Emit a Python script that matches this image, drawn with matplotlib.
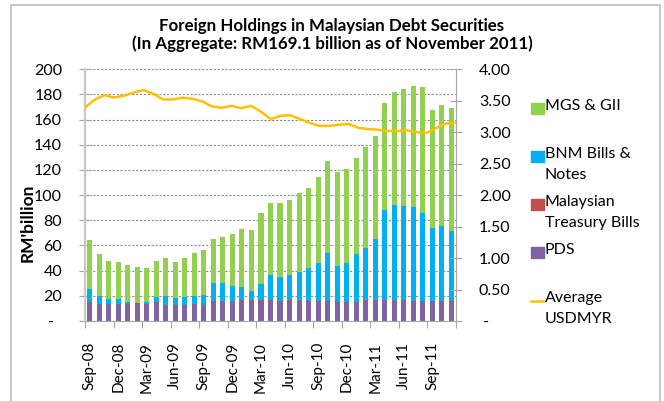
import numpy as np
import matplotlib
matplotlib.use("Agg")
import matplotlib.pyplot as plt
from matplotlib.patches import Rectangle
from matplotlib.lines import Line2D

plt.rcParams['font.family'] = ['Lato', 'DejaVu Sans']

months = ['Sep-08', 'Oct-08', 'Nov-08', 'Dec-08',
          'Jan-09', 'Feb-09', 'Mar-09', 'Apr-09', 'May-09', 'Jun-09',
          'Jul-09', 'Aug-09', 'Sep-09', 'Oct-09', 'Nov-09', 'Dec-09',
          'Jan-10', 'Feb-10', 'Mar-10', 'Apr-10', 'May-10', 'Jun-10',
          'Jul-10', 'Aug-10', 'Sep-10', 'Oct-10', 'Nov-10', 'Dec-10',
          'Jan-11', 'Feb-11', 'Mar-11', 'Apr-11', 'May-11', 'Jun-11',
          'Jul-11', 'Aug-11', 'Sep-11', 'Oct-11', 'Nov-11']

# RM billion
pds = [14.6, 13.5, 13.5, 13.2, 13.0, 13.2, 13.0, 14.3, 12.7, 12.7,
       12.7, 12.7, 12.7, 15.4, 15.6, 15.6, 15.9, 16.2, 16.2, 15.4,
       15.1, 15.4, 14.6, 14.8, 14.8, 14.8, 14.6, 14.6, 14.6, 15.6,
       15.6, 15.6, 15.6, 15.6, 15.6, 15.6, 15.6, 14.8, 14.8]
mtb = [0.8, 0.0, 0.0, 0.6, 0.8, 0.8, 0.8, 0.8, 0.0, 0.0,
       0.3, 0.5, 0.0, 0.8, 0.6, 0.6, 1.1, 0.8, 0.8, 1.3,
       1.1, 1.3, 1.3, 1.1, 1.1, 1.1, 0.8, 0.8, 0.8, 1.1,
       1.1, 1.1, 1.1, 1.1, 0.3, 0.3, 0.0, 1.1, 1.1]
bnm = [10.0, 6.5, 4.0, 3.7, 1.3, 0.3, 1.3, 4.0, 7.3, 5.7,
       6.2, 6.8, 8.1, 14.0, 14.0, 11.6, 10.2, 6.8, 12.4, 19.9,
       18.8, 19.9, 23.0, 26.2, 30.2, 38.1, 28.3, 30.7, 37.8, 41.3,
       48.5, 71.5, 75.5, 74.7, 74.7, 69.9, 58.3, 59.6, 55.6]
mgs = [39.0, 33.2, 30.2, 29.4, 29.4, 28.6, 27.0, 28.6, 30.1, 28.5,
       30.9, 34.0, 35.6, 35.0, 36.6, 41.3, 45.9, 48.5, 56.4, 57.2,
       58.8, 59.6, 62.8, 63.6, 68.3, 73.2, 74.7, 74.7, 76.3, 80.3,
       81.8, 85.0, 89.8, 93.0, 96.2, 100.2, 93.8, 96.2, 97.6]
usdmyr = [3.39, 3.52, 3.59, 3.55, 3.58, 3.63, 3.67, 3.61, 3.52, 3.52,
          3.55, 3.53, 3.49, 3.41, 3.39, 3.42, 3.38, 3.42, 3.33, 3.21,
          3.26, 3.27, 3.21, 3.15, 3.10, 3.10, 3.12, 3.13, 3.07, 3.05,
          3.04, 3.02, 3.02, 3.03, 3.00, 2.99, 3.07, 3.14, 3.15]

left_ticks = [0, 20, 40, 60, 80, 100, 120, 140, 160, 180, 200]
right_ticks = [0, 0.5, 1.0, 1.5, 2.0, 2.5, 3.0, 3.5, 4.0]

c_mgs = '#92D050'
c_bnm = '#00B0F0'
c_mtb = '#C0504D'
c_pds = '#8064A2'
c_usd = '#FFC000'
grey = '#a6a6a6'

W, H = 664, 401
fig = plt.figure(figsize=(W / 100, H / 100), dpi=100)

def fx(px):
    return px / W

def fy(py):
    return 1 - py / H

pos = [fx(85), fy(321), fx(456) - fx(85), fy(69.3) - fy(321)]
ax = fig.add_axes(pos)

n = len(months)
x = np.arange(n)
b1 = np.array(pds)
b2 = b1 + np.array(mtb)
b3 = b2 + np.array(bnm)
w = 0.53
ax.bar(x, pds, w, color=c_pds, zorder=2)
ax.bar(x, mtb, w, bottom=b1, color=c_mtb, zorder=2)
ax.bar(x, bnm, w, bottom=b2, color=c_bnm, zorder=2)
ax.bar(x, mgs, w, bottom=b3, color=c_mgs, zorder=2)

ax.set_xlim(-0.5, n - 0.5)
ax.set_ylim(0, 200)
ax.set_yticks(left_ticks)
ax.set_yticklabels(['-  '] + [str(t) for t in left_ticks[1:]], fontsize=11.5)
ax.yaxis.grid(True, linestyle=(0, (2, 1.5)), color='#8c8c8c', linewidth=0.8, zorder=0)
ax.set_axisbelow(True)

ax.set_xticks(np.arange(-0.5, n, 3))
ax.set_xticklabels([])
ax.set_xticks(x[::3], minor=True)
ax.set_xticklabels(months[::3], minor=True, rotation=90, fontsize=11)
ax.tick_params(axis='x', which='major', direction='out', length=5, color=grey)
ax.tick_params(axis='x', which='minor', length=0, pad=15)
ax.tick_params(axis='y', direction='inout', length=8, color=grey, pad=12.5)

ax.spines['top'].set_visible(False)
ax.spines['left'].set_color('#c8c8c8')
ax.spines['left'].set_linewidth(1.6)
ax.spines['bottom'].set_color(grey)
ax.spines['right'].set_color(grey)

ax.set_ylabel("RM'billion", fontsize=12.5, fontweight='bold', va='center')
ax.yaxis.set_label_coords(fx(28), fy(222.5), transform=fig.transFigure)

# USDMYR on its own scale
ax2 = fig.add_axes(pos, frameon=False)
ax2.plot(np.arange(n), usdmyr, color=c_usd, linewidth=1.8)
ax2.set_xlim(0, n - 1)
ax2.set_ylim(0, 4)
ax2.xaxis.set_visible(False)
ax2.yaxis.tick_right()
ax2.set_yticks(right_ticks)
ax2.set_yticklabels([' -'] + ['%.2f' % t for t in right_ticks[1:]], fontsize=11.5)
ax2.tick_params(axis='y', direction='inout', length=8, color=grey, pad=12.5)

fig.text(fx(332), fy(31), 'Foreign Holdings in Malaysian Debt Securities',
         ha='center', va='baseline', fontsize=12.2, fontweight='bold')
fig.text(fx(332), fy(49), '(In Aggregate: RM169.1 billion as of November 2011)',
         ha='center', va='baseline', fontsize=12.2, fontweight='bold')

# legend, Excel style: handle beside the first line of each entry
leg_labels = ['MGS & GII', 'BNM Bills &\nNotes', 'Malaysian\nTreasury Bills', 'PDS', 'Average\nUSDMYR']
leg_colors = [c_mgs, c_bnm, c_mtb, c_pds, c_usd]
for k, (lab, col) in enumerate(zip(leg_labels, leg_colors)):
    yc = 108.7 + 48 * k
    if k < 4:
        fig.add_artist(Rectangle((fx(531), fy(yc + 5.3)), fx(13), fy(0) - fy(10.6),
                                 transform=fig.transFigure, color=col))
    else:
        fig.add_artist(Line2D([fx(531), fx(544)], [fy(yc), fy(yc)],
                              transform=fig.transFigure, color=col, linewidth=1.8))
    fig.text(fx(545), fy(yc - 9.5), lab, ha='left', va='top', fontsize=11.5, linespacing=1.65)

# chart area border
fig.add_artist(Rectangle((fx(11), fy(405)), fx(649), fy(5) - fy(405),
                         transform=fig.transFigure, fill=False, edgecolor='#bfbfbf', linewidth=1.2))

fig.savefig('out.png', dpi=100)
